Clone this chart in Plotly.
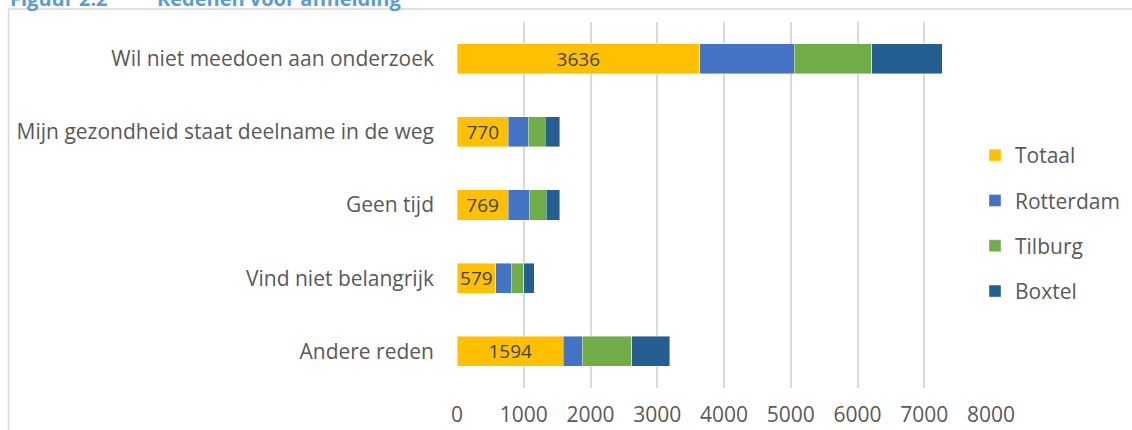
import plotly.graph_objects as go

categories = ["Wil niet meedoen aan onderzoek",
              "Mijn gezondheid staat deelname in de weg",
              "Geen tijd",
              "Vind niet belangrijk",
              "Andere reden"]
totaal = [3636, 770, 769, 579, 1594]
rotterdam = [1420, 298, 313, 230, 282]
tilburg = [1158, 254, 254, 190, 744]
boxtel = [1058, 218, 202, 159, 568]
series_names = ["Totaal", "Rotterdam", "Tilburg", "Boxtel"]
colors = ["#FFC000", "#4472C4", "#70AD47", "#255E91"]
x_ticks = [0, 1000, 2000, 3000, 4000, 5000, 6000, 7000, 8000]

FONT = "Open Sans"
W, H = 1132, 430
L, R, T, B = 457, 991, 22, 388

def px_x(p):
    return (p - L) / (R - L)

def px_y(p):
    return (B - p) / (B - T)

fig = go.Figure()
for i, (name, vals) in enumerate(zip(series_names, [totaal, rotterdam, tilburg, boxtel])):
    kw = {}
    if name == "Totaal":
        kw = dict(text=[str(v) for v in vals], textposition="inside",
                  insidetextanchor="middle", constraintext="none",
                  textfont=dict(family=FONT, size=19, color="#404040"))
    fig.add_trace(go.Bar(
        y=categories, x=vals, name=name, orientation="h",
        marker=dict(color=colors[i], line=dict(color="rgba(255,255,255,0.6)", width=0.7)),
        legendgroup=name, **kw))

fig.update_layout(
    width=W, height=H,
    margin=dict(l=L, r=W - R, t=T, b=H - B, pad=0, autoexpand=False),
    barmode="stack", bargap=0.59,
    plot_bgcolor="white", paper_bgcolor="white",
    font=dict(family=FONT, color="#595959", size=21),
    uniformtext=dict(minsize=19, mode="show"),
    showlegend=True,
    legend=dict(x=px_x(975), y=px_y(135), xanchor="left", yanchor="top",
                traceorder="grouped", tracegroupgap=15,
                font=dict(family=FONT, size=21, color="#595959"),
                itemwidth=30, bgcolor="rgba(0,0,0,0)"),
    xaxis=dict(range=[0, 8000], tickvals=x_ticks, ticktext=[str(v) for v in x_ticks],
               showgrid=True, gridcolor="#D9D9D9", gridwidth=1.5,
               zeroline=False, showline=False, ticks="", automargin=False,
               ticklabelstandoff=12,
               tickfont=dict(family=FONT, size=21, color="#595959")),
    yaxis=dict(categoryorder="array", categoryarray=categories, autorange="reversed",
               showgrid=False, zeroline=False, showline=False, ticks="", automargin=False,
               ticklabelstandoff=22,
               tickfont=dict(family=FONT, size=21, color="#595959")),
)

# outer chart frame (partially visible)
fig.add_shape(type="line", xref="paper", yref="paper",
              x0=px_x(8.5), x1=px_x(1140), y0=px_y(9), y1=px_y(9),
              line=dict(color="#D9D9D9", width=1.5))
fig.add_shape(type="line", xref="paper", yref="paper",
              x0=px_x(8.5), x1=px_x(8.5), y0=px_y(9), y1=px_y(440),
              line=dict(color="#D9D9D9", width=1.5))

# clipped figure caption at the top
fig.add_annotation(xref="paper", yref="paper", x=px_x(8), y=px_y(-1.5),
                   xanchor="left", yanchor="middle", showarrow=False,
                   text="<b>Figuur 2.2</b>",
                   font=dict(family=FONT, size=20, color="#5B9BD5"))
fig.add_annotation(xref="paper", yref="paper", x=px_x(155), y=px_y(-1.5),
                   xanchor="left", yanchor="middle", showarrow=False,
                   text="<b>Redenen voor afmelding</b>",
                   font=dict(family=FONT, size=20, color="#5B9BD5"))

fig.write_html("out.html", config={"displayModeBar": False},
               post_script="document.body.style.margin='0';document.body.style.padding='0';")
